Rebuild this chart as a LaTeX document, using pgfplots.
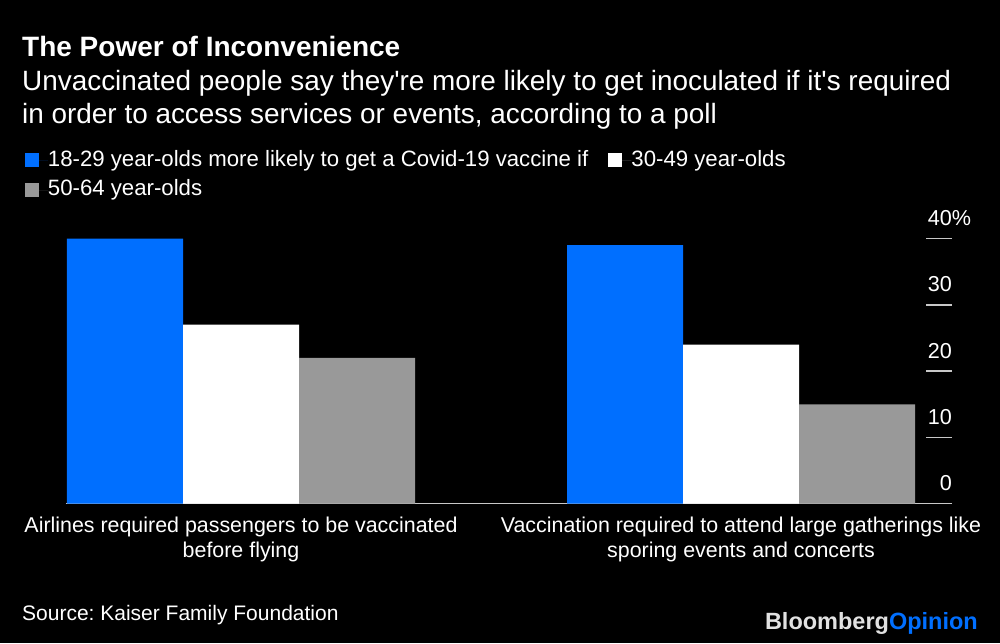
\documentclass[border=0pt]{standalone}
\usepackage{fontspec}
\setmainfont{Liberation Sans}
\usepackage{pgfplots}
\pgfplotsset{compat=1.18}
\definecolor{bblue}{RGB}{0,111,255}
\definecolor{bgray}{RGB}{153,153,153}
\definecolor{axisgray}{RGB}{200,200,200}
\definecolor{logogray}{RGB}{225,225,225}
\frenchspacing
\begin{document}
\begin{tikzpicture}
\fill[black] (0pt,0pt) rectangle (1000pt,643pt);
\node[anchor=base west, inner sep=0pt, text=white, font=\fontsize{28}{32}\selectfont\bfseries] at (22pt,586pt) {The Power of Inconvenience};
\node[anchor=base west, inner sep=0pt, text=white, font=\fontsize{27.9}{32}\selectfont] at (22pt,552.5pt) {Unvaccinated people say they\textquotesingle re more likely to get inoculated if it\textquotesingle s required};
\node[anchor=base west, inner sep=0pt, text=white, font=\fontsize{27.9}{32}\selectfont] at (22pt,519.7pt) {in order to access services or events, according to a poll};
\begin{axis}[
  at={(66pt,139.3pt)}, anchor=south west,
  scale only axis, width=886pt, height=265.2pt,
  xmin=-0.35, xmax=1.422, ymin=0, ymax=40,
  ybar=0pt, bar width=116pt,
  axis x line*=bottom, axis y line*=right,
  x axis line style={draw=axisgray, line width=1.5pt, -},
  y axis line style={draw=none},
  xtick={0,1},
  xticklabels={{Airlines required passengers to be vaccinated\\before flying},{Vaccination required to attend large gatherings like\\sporing events and concerts}},
  xtick style={draw=none},
  xticklabel style={align=center, text=white, font=\fontsize{21.4}{25}\selectfont, anchor=north, inner sep=0pt, yshift=-13pt},
  ytick={0,10,20,30,40}, yticklabels={0,10,20,30,40\rlap{\%}},
  ytick style={draw=axisgray, line width=1.5pt},
  major tick length=26pt, tick align=inside,
  yticklabel style={anchor=base east, inner sep=0pt, text=white, font=\fontsize{21.6}{25}\selectfont, yshift=13pt},
  /pgf/number format/assume math mode=true,
  clip=false,
  legend columns=2,
  legend cell align=left,
  legend style={at={(axis description cs:-0.0463,1.333)}, anchor=north west, draw=none, fill=none, inner sep=0pt, outer sep=0pt, text=white, font=\fontsize{22.2}{26}\selectfont, row sep=8.5pt, /tikz/every even column/.append style={column sep=20pt}, nodes={inner sep=0pt, text height=16pt, text depth=5pt}},
  legend image code/.code={\fill[#1] (0pt,-6.5pt) rectangle (14pt,7.5pt); \path (0pt,0pt) -- (23pt,0pt);},
]
\addplot[fill=bblue, draw=none] coordinates {(0,40) (1,39)};
\addplot[fill=white, draw=none] coordinates {(0,27) (1,24)};
\addplot[fill=bgray, draw=none] coordinates {(0,22) (1,15)};
\legend{18-29 year-olds more likely to get a Covid-19 vaccine if, 30-49 year-olds, 50-64 year-olds}
\end{axis}
\node[anchor=base west, inner sep=0pt, text=white, font=\fontsize{21}{25}\selectfont] at (22pt,23pt) {Source: Kaiser Family Foundation};
\node[anchor=base east, inner sep=0pt, font=\fontsize{23.5}{28}\selectfont\bfseries] at (978pt,13.7pt) {\textcolor{logogray}{Bloomberg}\textcolor{bblue}{Opinion}};
\pgfresetboundingbox
\path[use as bounding box] (0pt,0pt) rectangle (1000pt,643pt);
\end{tikzpicture}
\end{document}
